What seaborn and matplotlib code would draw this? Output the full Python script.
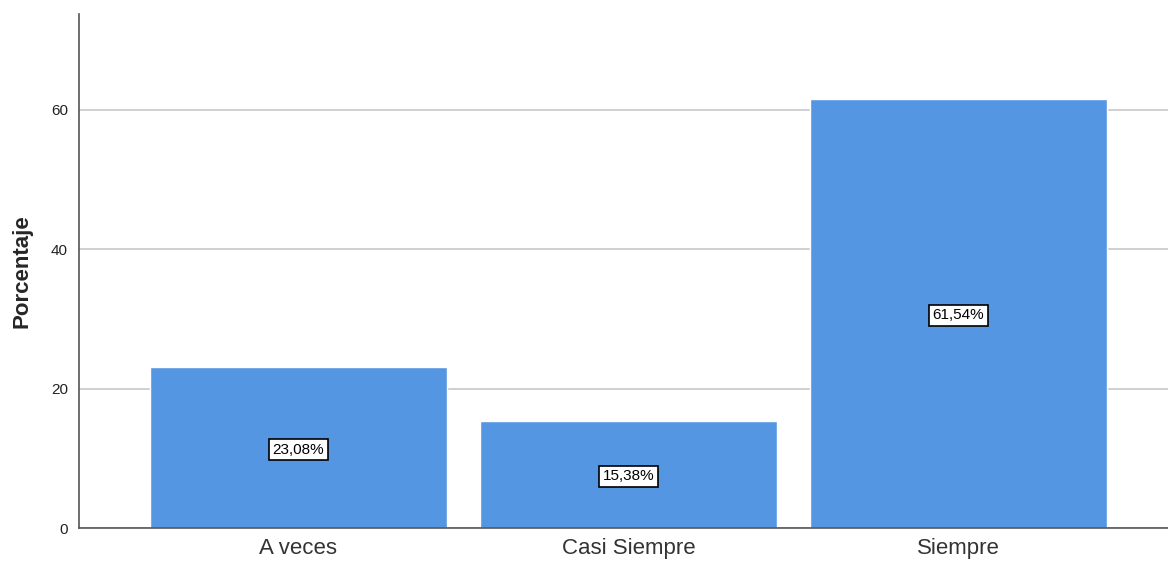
import matplotlib
matplotlib.use("Agg")
import matplotlib.pyplot as plt
import seaborn as sns
import pandas as pd

categories = ["A veces", "Casi Siempre", "Siempre"]
values = [23.08, 15.38, 61.54]
labels = ["23,08%", "15,38%", "61,54%"]
yticks = [0, 20, 40, 60]

sns.set_style("white")
plt.rcParams["font.family"] = ["Liberation Sans", "DejaVu Sans"]

fig = plt.figure(figsize=(11.68, 5.62), dpi=100)
ax = fig.add_axes([79/1168, 34/562, 1 - 79/1168, (528-14)/562])

df = pd.DataFrame({"cat": categories, "val": values})
sns.barplot(data=df, x="cat", y="val", color="#5596E3", saturation=1, width=0.9, ax=ax, zorder=2)

ax.set_ylim(0, 73.7)
ax.set_xlim(-0.665, 2.635)
ax.set_yticks(yticks)
ax.yaxis.grid(True, color="#c8c8c8", linewidth=1.2, zorder=0)
ax.set_axisbelow(True)
for s in ["top", "right"]:
    ax.spines[s].set_visible(False)
for s in ["left", "bottom"]:
    ax.spines[s].set_color("#555555")
    ax.spines[s].set_linewidth(1.2)
ax.tick_params(axis="y", labelsize=11, length=0, pad=8, colors="#222222")
ax.tick_params(axis="x", labelsize=16, length=0, pad=7, colors="#333333")
ax.set_xlabel("")
ax.set_ylabel("Porcentaje", fontsize=16, fontweight="bold", labelpad=13)

for i, (v, lab) in enumerate(zip(values, labels)):
    ax.text(i, v / 2 - 0.3, lab, ha="center", va="center", fontsize=11, color="black",
            bbox=dict(boxstyle="square,pad=0.25", facecolor="white", edgecolor="black", linewidth=1.2), zorder=5)

fig.savefig("out.png", dpi=100)
